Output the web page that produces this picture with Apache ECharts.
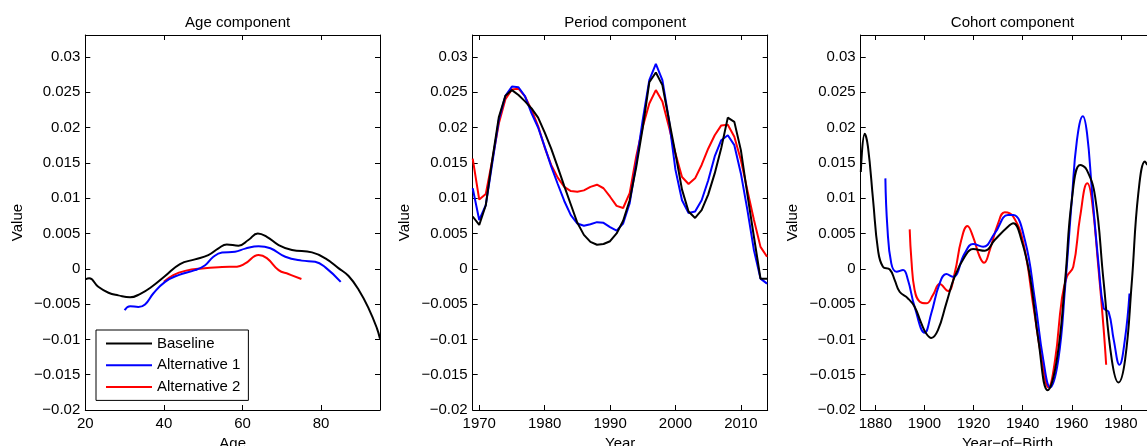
<!DOCTYPE html>
<html>
<head>
<meta charset="utf-8">
<title>Age, period and cohort components</title>
<script src="https://cdn.jsdelivr.net/npm/echarts@6/dist/echarts.min.js"></script>
<style>
  html, body { margin: 0; padding: 0; background: #fff; }
  #chart { width: 1147px; height: 446px; }
</style>
</head>
<body>
<div id="chart"></div>
<script>
// shared y ticks (all three panels use the same range)
const yTicks = [-0.02, -0.015, -0.01, -0.005, 0, 0.005, 0.01, 0.015, 0.02, 0.025, 0.03];
const yTickLabels = ['\u22120.02', '\u22120.015', '\u22120.01', '\u22120.005', '0', '0.005', '0.01', '0.015', '0.02', '0.025', '0.03'];

const ageTicks = [20, 40, 60, 80];
const periodTicks = [1970, 1980, 1990, 2000, 2010];
const cohortTicks = [1880, 1900, 1920, 1940, 1960, 1980];

const seriesNames = ['Baseline', 'Alternative 1', 'Alternative 2'];
const seriesColors = ['#000000', '#0000ff', '#ff0000'];

// Age component
const ageBaseX = [20, 21, 23.3, 25.9, 28.4, 31.4, 33.9, 36.9, 40.3, 44.1, 47.9, 51.3, 53.9, 56, 59, 61.5, 63.9, 66.2, 69.2, 72.6, 77.7, 81.1, 84.5, 87, 89.6, 92.1, 94.2, 95];
const ageBaseY = [-0.0015, -0.00136, -0.00255, -0.0034, -0.00377, -0.00405, -0.00358, -0.00255, -0.00103, 0.00067, 0.00133, 0.00194, 0.00289, 0.00345, 0.00326, 0.00407, 0.005, 0.00453, 0.00336, 0.00265, 0.00232, 0.00147, 0.00006, -0.00103, -0.003, -0.0056, -0.0084, -0.0099];
const ageAlt1X = [30, 31.4, 33.5, 35.2, 37.3, 40.3, 43.7, 47.9, 50.5, 52.6, 54.8, 58.1, 60.7, 64.1, 67.1, 70.9, 75.1, 78.5, 81.1, 85];
const ageAlt1Y = [-0.00585, -0.0053, -0.0054, -0.00505, -0.0035, -0.00185, -0.0009, -0.0002, 0.0005, 0.0017, 0.0023, 0.0024, 0.00285, 0.0032, 0.0029, 0.0017, 0.00115, 0.001, 0.0002, -0.00185];
const ageAlt2X = [40, 42.4, 45.4, 49.7, 54.8, 58.6, 60.7, 64.1, 66.2, 69.2, 71.7, 75];
const ageAlt2Y = [-0.00185, -0.0009, -0.0003, 0.00005, 0.00025, 0.0003, 0.00075, 0.00195, 0.0015, -0.0002, -0.00075, -0.00145];

// Period component (one value per year, 1969-2014)
const periodYears = [1969, 1970, 1971, 1972, 1973, 1974, 1975, 1976, 1977, 1978, 1979, 1980, 1981, 1982, 1983, 1984, 1985, 1986, 1987, 1988, 1989, 1990, 1991, 1992, 1993, 1994, 1995, 1996, 1997, 1998, 1999, 2000, 2001, 2002, 2003, 2004, 2005, 2006, 2007, 2008, 2009, 2010, 2011, 2012, 2013, 2014];
const periodBase = [0.0074, 0.0062, 0.009, 0.0155, 0.0215, 0.0245, 0.0253, 0.0246, 0.0237, 0.0227, 0.0214, 0.0193, 0.017, 0.0144, 0.0117, 0.0091, 0.0065, 0.0048, 0.0038, 0.0034, 0.0035, 0.0039, 0.005, 0.0068, 0.0097, 0.0144, 0.02, 0.0264, 0.0278, 0.026, 0.0211, 0.0163, 0.0112, 0.0081, 0.0072, 0.0083, 0.0105, 0.0135, 0.0171, 0.0214, 0.0208, 0.0168, 0.0105, 0.0045, -0.0014, -0.0014];
const periodAlt1 = [0.0114, 0.0069, 0.009, 0.015, 0.0211, 0.0245, 0.0258, 0.0257, 0.0244, 0.022, 0.02, 0.0173, 0.0145, 0.012, 0.0096, 0.0076, 0.0064, 0.0061, 0.0063, 0.0066, 0.0065, 0.0059, 0.0054, 0.0064, 0.0093, 0.0149, 0.0211, 0.0267, 0.029, 0.0267, 0.0211, 0.014, 0.0097, 0.0079, 0.0081, 0.0097, 0.0125, 0.0159, 0.0182, 0.0189, 0.0175, 0.0135, 0.0083, 0.0026, -0.0014, -0.0021];
const periodAlt2 = [0.0156, 0.0098, 0.0106, 0.0154, 0.0206, 0.024, 0.0254, 0.0255, 0.0244, 0.0225, 0.0202, 0.0172, 0.0147, 0.0129, 0.0116, 0.011, 0.0109, 0.0111, 0.0116, 0.0119, 0.0114, 0.0102, 0.0089, 0.0086, 0.0107, 0.0159, 0.0201, 0.0234, 0.0253, 0.0237, 0.0201, 0.0163, 0.013, 0.012, 0.0128, 0.0147, 0.017, 0.0189, 0.0203, 0.0204, 0.0187, 0.0154, 0.0111, 0.0069, 0.0031, 0.0017];

// Cohort component
const cohortBaseX = [1874.1, 1875.7, 1877, 1879.1, 1881.1, 1883.1, 1885.9, 1887.9, 1889.9, 1893.3, 1896, 1898.7, 1900.8, 1902.8, 1905.5, 1908.9, 1912.3, 1916.4, 1919.8, 1924.6, 1928.6, 1934, 1936.2, 1939.5, 1943, 1946.4, 1950.2, 1953.9, 1957.3, 1960, 1963.4, 1966.1, 1969.5, 1972.9, 1976.3, 1979, 1981.7, 1984.4, 1987.1, 1989.8, 1990.7];
const cohortBaseY = [0.0137, 0.0191, 0.0173, 0.0097, 0.00265, 0.00028, -0.0001, -0.0016, -0.00326, -0.0042, -0.00538, -0.0077, -0.0092, -0.0098, -0.0087, -0.0049, -0.00113, 0.0017, 0.00279, 0.00255, 0.00407, 0.00595, 0.00643, 0.00407, -0.00113, -0.0101, -0.0172, -0.0129, -0.0016, 0.0097, 0.0147, 0.014, 0.0102, -0.0016, -0.0129, -0.0161, -0.0129, -0.00207, 0.0107, 0.0152, 0.0147];
const cohortAlt1X = [1884.1, 1884.9, 1886.5, 1888.6, 1891.3, 1893.3, 1896, 1900.1, 1902.8, 1906.2, 1908.9, 1911.6, 1916.4, 1919.8, 1923.9, 1928.6, 1934, 1936.2, 1940.9, 1945, 1948.4, 1951.2, 1954.5, 1957.3, 1960, 1962.1, 1964.5, 1966.2, 1968.2, 1971, 1973, 1975, 1977.1, 1979.4, 1981.6, 1983.5];
const cohortAlt1Y = [0.0128, 0.00595, 0.00076, -0.00042, -0.00018, -0.0016, -0.00538, -0.00906, -0.0063, -0.00207, -0.00075, -0.00113, 0.00218, 0.0035, 0.00312, 0.005, 0.0076, 0.0076, 0.00407, -0.00443, -0.0129, -0.0168, -0.0129, -0.00255, 0.0097, 0.0182, 0.0216, 0.0192, 0.0111, 0.00028, -0.0056, -0.0061, -0.0101, -0.0136, -0.0101, -0.0035];
const cohortAlt2X = [1894, 1894.7, 1896, 1898.1, 1900.8, 1903.5, 1906.2, 1909.6, 1912.3, 1915, 1917.5, 1919.8, 1922.5, 1924.3, 1926.6, 1930, 1932.7, 1936.2, 1940.3, 1944.4, 1947.8, 1950.5, 1953.2, 1955.9, 1958, 1960.6, 1963.4, 1966.3, 1968.2, 1970.8, 1972.9, 1974];
const cohortAlt2Y = [0.00558, 0.00123, -0.003, -0.00467, -0.0049, -0.0037, -0.00217, -0.00316, -0.00065, 0.00407, 0.00605, 0.00453, 0.0017, 0.00085, 0.00265, 0.00643, 0.008, 0.00737, 0.0036, -0.00538, -0.0129, -0.0168, -0.0129, -0.00443, -0.00113, 0.00028, 0.00737, 0.0121, 0.0097, 0.00028, -0.0082, -0.0136];

const fontFamily = '"Liberation Sans", Arial, Helvetica, sans-serif';

const panels = [
  { title: 'Age component', left: 85.3, width: 294.7, min: 20, max: 95, ticks: ageTicks, name: 'Age' },
  { title: 'Period component', left: 472.7, width: 295, min: 1969, max: 2014.1, ticks: periodTicks, name: 'Year' },
  { title: 'Cohort component', left: 860.7, width: 293.6, min: 1874.05, max: 1993.6, ticks: cohortTicks, name: 'Year\u2212of\u2212Birth' }
];

const lines = [
  [[ageBaseX, ageBaseY], [ageAlt1X, ageAlt1Y], [ageAlt2X, ageAlt2Y]],
  [[periodYears, periodBase], [periodYears, periodAlt1], [periodYears, periodAlt2]],
  [[cohortBaseX, cohortBaseY], [cohortAlt1X, cohortAlt1Y], [cohortAlt2X, cohortAlt2Y]]
];

function pairs(xs, ys) {
  return xs.map((x, i) => [x, ys[i]]);
}

function yLabel(v) {
  const i = yTicks.findIndex(t => Math.abs(t - v) < 1e-9);
  return i < 0 ? '' : yTickLabels[i];
}

const grids = [], xAxes = [], yAxes = [], titles = [], series = [];

panels.forEach((p, k) => {
  grids.push({ left: p.left, top: 35, width: p.width, height: 375, containLabel: false, outerBoundsMode: 'none' });
  titles.push({
    text: p.title, left: p.left + p.width / 2, top: 10, textAlign: 'center',
    textStyle: { fontSize: 15, fontWeight: 'normal', color: '#000', fontFamily }
  });
  const tickStyle = { show: true, inside: true, length: 5, lineStyle: { color: '#000' } };
  // bottom axis with labels, top axis just for the inward ticks
  xAxes.push({
    type: 'value', gridIndex: k, position: 'bottom', min: p.min, max: p.max,
    name: p.name, nameLocation: 'middle', nameGap: 23,
    nameTextStyle: { fontSize: 15, color: '#000', fontFamily },
    axisLine: { show: true, onZero: false, lineStyle: { color: '#000', width: 1 } },
    axisTick: Object.assign({ customValues: p.ticks }, tickStyle),
    axisLabel: { customValues: p.ticks, formatter: v => String(v), fontSize: 15, color: '#000', margin: 6, fontFamily },
    splitLine: { show: false }
  });
  xAxes.push({
    type: 'value', gridIndex: k, position: 'top', min: p.min, max: p.max,
    axisLine: { show: true, onZero: false, lineStyle: { color: '#000', width: 1 } },
    axisTick: Object.assign({ customValues: p.ticks }, tickStyle),
    axisLabel: { show: false },
    splitLine: { show: false }
  });
  yAxes.push({
    type: 'value', gridIndex: k, position: 'left', min: -0.02, max: 0.0331,
    name: 'Value', nameLocation: 'middle', nameGap: 60,
    nameTextStyle: { fontSize: 15, color: '#000', fontFamily },
    axisLine: { show: true, onZero: false, lineStyle: { color: '#000', width: 1 } },
    axisTick: Object.assign({ customValues: yTicks }, tickStyle),
    axisLabel: { customValues: yTicks, formatter: yLabel, fontSize: 15, color: '#000', margin: 5, fontFamily },
    splitLine: { show: false }
  });
  yAxes.push({
    type: 'value', gridIndex: k, position: 'right', min: -0.02, max: 0.0331,
    axisLine: { show: true, onZero: false, lineStyle: { color: '#000', width: 1 } },
    axisTick: Object.assign({ customValues: yTicks }, tickStyle),
    axisLabel: { show: false },
    splitLine: { show: false }
  });
  lines[k].forEach((xy, j) => {
    series.push({
      name: seriesNames[j], type: 'line',
      xAxisIndex: 2 * k, yAxisIndex: 2 * k,
      data: pairs(xy[0], xy[1]),
      smooth: k === 1 ? false : 0.45,
      symbol: 'none',
      lineStyle: { color: seriesColors[j], width: 2 },
      itemStyle: { color: seriesColors[j] },
      z: 3 - j
    });
  });
});

const chart = echarts.init(document.getElementById('chart'));
chart.setOption({
  animation: false,
  backgroundColor: '#fff',
  title: titles,
  grid: grids,
  xAxis: xAxes,
  yAxis: yAxes,
  legend: {
    data: seriesNames, orient: 'vertical', left: 96, top: 330,
    icon: 'path://M0,0L46,0L46,2L0,2Z',
    itemWidth: 46, itemHeight: 14, itemGap: 6.7,
    padding: [6, 8, 6, 10],
    borderColor: '#000', borderWidth: 1, backgroundColor: '#fff',
    selectedMode: false,
    textStyle: { fontSize: 15, color: '#000', fontFamily }
  },
  series: series
});
</script>
</body>
</html>
